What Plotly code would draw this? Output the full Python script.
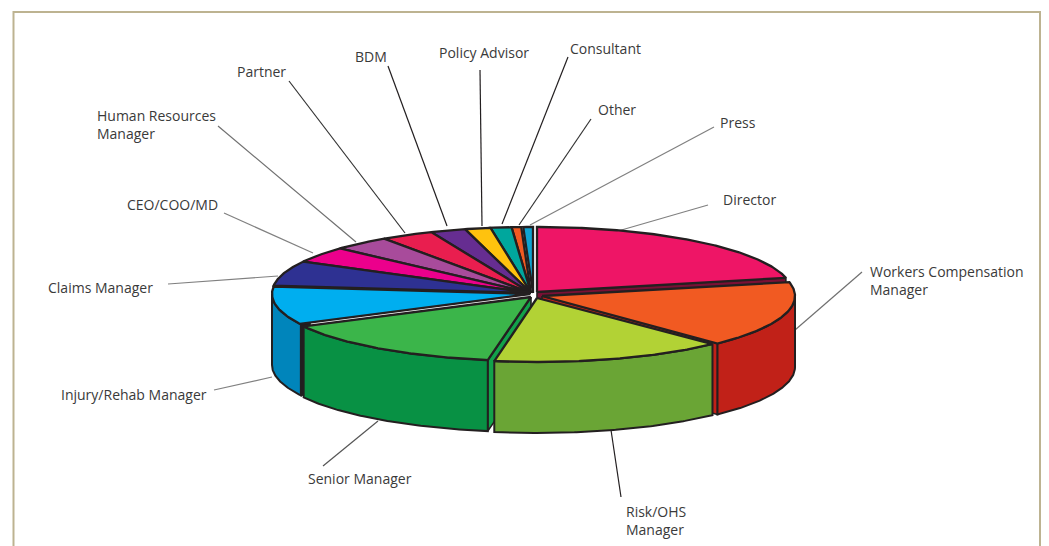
import numpy as np
import plotly.graph_objects as go

# ---- data (clockwise from 12 o'clock, share of respondents, %) ----
categories = ["Director", "Workers Compensation Manager", "Risk/OHS Manager", "Senior Manager",
              "Injury/Rehab Manager", "Claims Manager", "CEO/COO/MD", "Human Resources Manager",
              "Partner", "BDM", "Policy Advisor", "Consultant", "Other", "Press"]
values = [21.5, 16.3, 14.9, 14.7, 9.4, 6.1, 3.9, 3.6, 3.3, 2.2, 1.6, 1.3, 0.6, 0.6]

top_colors = ["#EE1566", "#F15A22", "#B2D235", "#3BB54A", "#00AEEF", "#2E3192", "#EC008C",
              "#A84B9B", "#E91E4F", "#662D91", "#FFC20E", "#00A79D", "#F15A22", "#0FA3D1"]
wall_colors = {1: "#C12118", 2: "#6AA535", 3: "#089144", 4: "#0085BB"}
# slice: (which radial edge shows, colour, part of the edge drawn, measured from the rim)
cut_faces = {0: ("end", "#7A1035", 1.0), 1: ("end", "#C12118", 1.0), 3: ("start", "#12A24A", 1.0),
             4: ("start", "#231F20", 0.04)}

label_text = ["Director", "Workers Compensation<br>Manager", "Risk/OHS<br>Manager", "Senior Manager",
              "Injury/Rehab Manager", "Claims Manager", "CEO/COO/MD", "Human Resources<br>Manager",
              "Partner", "BDM", "Policy Advisor", "Consultant", "Other", "Press"]
label_pos = [(721, 199), (868, 280), (624, 520), (306, 478), (59, 394), (46, 287), (125, 204),
             (95, 124), (235, 71), (353, 56), (437, 52), (568, 48), (596, 109), (718, 122)]
leaders = [((618, 231), (708, 205), "#808080"), ((795, 330), (862, 272), "#707070"),
           ((611, 430), (621, 497), "#231F20"), ((378, 421), (323, 466), "#555555"),
           ((272, 377), (214, 390), "#808080"), ((278, 276), (168, 284), "#808080"),
           ((313, 253), (224, 213), "#808080"), ((356, 242), (218, 126), "#707070"),
           ((405, 233), (289, 81), "#333333"), ((447, 226), (388, 66), "#231F20"),
           ((482, 226), (480, 70), "#231F20"), ((502, 224), (568, 57), "#231F20"),
           ((519, 225), (591, 119), "#333333"), ((530, 225), (714, 127), "#808080")]

# ---- pie geometry: each exploded wedge has its own centre and radii ----
DEPTH = 71
INK = "#231F20"
BACK = (531, 293, 259, 66)
wedge_geom = [(537, 292, 255, 65), (542, 296, 253, 66), (537, 298, 253, 64), (531, 297, 256, 64),
              (530, 294, 258, 66)] + [BACK] * 8 + [(533, 293, 259, 66)]

edges = np.concatenate([[0], np.cumsum(values)]) / sum(values) * 360

fig = go.Figure()


def poly(xs, ys, color, name, lw=2.3):
    fig.add_trace(go.Scatter(x=list(xs) + [xs[0]], y=list(ys) + [ys[0]], mode="lines", fill="toself",
                             fillcolor=color, line=dict(color=INK, width=lw), name=name,
                             hoverinfo="name", showlegend=False))


def draw_slice(i):
    a, b = edges[i], edges[i + 1]
    cx, cy, rx, ry = wedge_geom[i]

    def rim(t_deg):
        t = np.radians(t_deg)
        return cx + rx * np.sin(t), cy - ry * np.cos(t)

    def arc(p, q):
        return rim(np.linspace(p, q, max(int(abs(q - p) * 2), 2)))

    if i in cut_faces:
        side, col, part = cut_faces[i]
        ox, oy = rim(b if side == "end" else a)
        ix, iy = ox + (cx - ox) * part, oy + (cy - oy) * part
        poly([ix, ox, ox, ix], [iy, oy, oy + DEPTH, iy + DEPTH], col, categories[i], 1.6)
    if i in wall_colors:
        x, y = arc(max(a, 90), min(b, 270))
        poly(np.r_[x, x[::-1]], np.r_[y, y[::-1] + DEPTH], wall_colors[i], categories[i], 2.0)
    x, y = arc(a, b)
    poly(np.r_[cx, x], np.r_[cy, y], top_colors[i], categories[i])


for i in [13, 12, 11, 10, 9, 8, 7, 6, 5, 0, 4, 1, 3, 2]:
    draw_slice(i)

shapes = [dict(type="rect", xref="x", yref="y", x0=13.5, y0=12, x1=1040, y1=570,
               line=dict(color="#BDB391", width=2), layer="below")]
for (p0, p1, col) in leaders:
    shapes.append(dict(type="line", xref="x", yref="y", x0=p0[0], y0=p0[1], x1=p1[0], y1=p1[1],
                       line=dict(color=col, width=1.2), layer="below"))

annotations = [dict(x=p[0], y=p[1], xref="x", yref="y", text=t, showarrow=False, xanchor="left",
                    yanchor="middle", align="left", font=dict(family="Open Sans", size=14, color="#3A3A3A"))
               for t, p in zip(label_text, label_pos)]

fig.update_layout(width=1049, height=546, margin=dict(l=0, r=0, t=0, b=0), paper_bgcolor="white",
                  plot_bgcolor="white", showlegend=False, shapes=shapes, annotations=annotations,
                  xaxis=dict(range=[0, 1049], visible=False, fixedrange=True),
                  yaxis=dict(range=[546, 0], visible=False, fixedrange=True))

fig.write_html("out.html", config={"displayModeBar": False},
               post_script="document.body.style.margin='0';document.body.style.overflow='hidden';")
